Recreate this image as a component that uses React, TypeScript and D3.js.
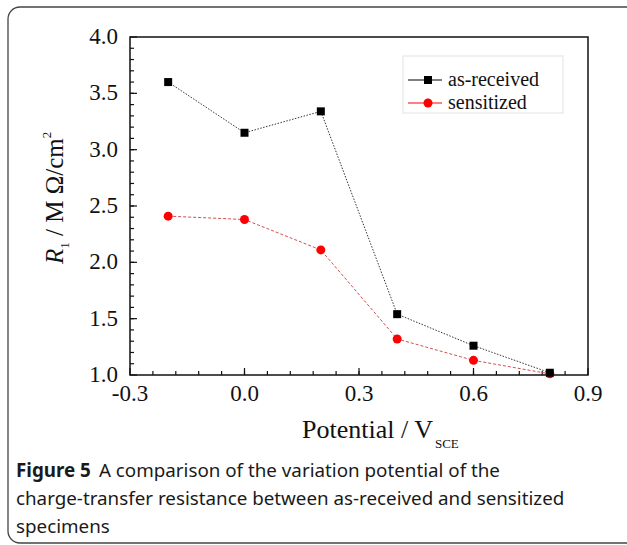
import React from "react";
import * as d3 from "d3";

const potentials = [-0.2, 0.0, 0.2, 0.4, 0.6, 0.8];
const asReceived = [3.6, 3.15, 3.34, 1.54, 1.26, 1.02];
const sensitized = [2.41, 2.38, 2.11, 1.32, 1.13, 1.01];
const xTicks = [-0.3, 0.0, 0.3, 0.6, 0.9];
const yTicks = [1.0, 1.5, 2.0, 2.5, 3.0, 3.5, 4.0];
const seriesNames = ["as-received", "sensitized"];
const captionLines = [
  "A comparison of the variation potential of the",
  "charge-transfer resistance between as-received and sensitized",
  "specimens",
];

const W = 627, H = 545;
const left = 130, right = 588, top = 37, bottom = 375;

export default function App() {
  const x = d3.scaleLinear().domain([-0.3, 0.9]).range([left, right]);
  const y = d3.scaleLinear().domain([1.0, 4.0]).range([bottom, top]);
  const line = d3.line<number>().x((_, i) => x(potentials[i])).y((d) => y(d));
  const xMinor = d3.range(-0.3, 0.9001, 0.06).filter((v) => v > -0.29 && v < 0.89);
  const yMinor = d3.range(1.0, 4.0001, 0.1).filter((v) => v > 1.01 && v < 3.99);
  const serif = "'Liberation Serif', 'Times New Roman', serif";
  const sans = "'Noto Sans', 'Open Sans', sans-serif";
  return (
    <svg width={W} height={H} style={{ position: "absolute", left: 0, top: 0, background: "#fff" }}>
      <rect x={8} y={7} width={650} height={536} rx={12} fill="none" stroke="#444" strokeWidth={1.3} />
      {/* plot box */}
      <rect x={left} y={top} width={right - left} height={bottom - top} fill="none" stroke="#111" strokeWidth={1.5} />
      {/* minor ticks */}
      {xMinor.map((v, i) => (
        <line key={"xm" + i} x1={x(v)} x2={x(v)} y1={bottom} y2={bottom - 4} stroke="#111" strokeWidth={1.2} />
      ))}
      {xTicks.map((v, i) => (
        <g key={"xt" + i}>
          <line x1={x(v)} x2={x(v)} y1={bottom} y2={bottom - 7} stroke="#111" strokeWidth={1.2} />
          <text x={x(v)} y={bottom + 26} textAnchor="middle" fontFamily={serif} fontSize={23} fill="#111">
            {v.toFixed(1)}
          </text>
        </g>
      ))}
      {yMinor.map((v, i) => (
        <line key={"ym" + i} x1={left} x2={left + 4} y1={y(v)} y2={y(v)} stroke="#111" strokeWidth={1.2} />
      ))}
      {yTicks.map((v, i) => (
        <g key={"yt" + i}>
          <line x1={left} x2={left + 7} y1={y(v)} y2={y(v)} stroke="#111" strokeWidth={1.2} />
          <text x={left - 12} y={y(v) + 7} textAnchor="end" fontFamily={serif} fontSize={23} fill="#111">
            {v.toFixed(1)}
          </text>
        </g>
      ))}
      {/* lines */}
      <path d={line(asReceived) || ""} fill="none" stroke="#333" strokeWidth={1} strokeDasharray="1.5,1.5" />
      <path d={line(sensitized) || ""} fill="none" stroke="#d05050" strokeWidth={1} strokeDasharray="3,2" />
      {sensitized.map((v, i) => (
        <circle key={"s" + i} cx={x(potentials[i])} cy={y(v)} r={4.5} fill="#f00" />
      ))}
      {asReceived.map((v, i) => (
        <rect key={"a" + i} x={x(potentials[i]) - 4} y={y(v) - 4} width={8} height={8} fill="#000" />
      ))}
      {/* legend */}
      <rect x={403} y={56} width={160} height={57} fill="none" stroke="#e2e2e2" strokeWidth={1} />
      <line x1={408} x2={442} y1={80} y2={80} stroke="#000" strokeWidth={1.2} />
      <rect x={424} y={76} width={8} height={8} fill="#000" />
      <text x={448} y={86} fontFamily={serif} fontSize={20} fill="#111">{seriesNames[0]}</text>
      <line x1={408} x2={442} y1={103} y2={103} stroke="#f00" strokeWidth={1.2} />
      <circle cx={428} cy={103} r={4.5} fill="#f00" />
      <text x={448} y={109} fontFamily={serif} fontSize={20} fill="#111">{seriesNames[1]}</text>
      {/* axis titles */}
      <text x={302} y={438} fontFamily={serif} fontSize={26} fill="#111">
        Potential / V<tspan fontSize={13} dx={2} dy={10}>SCE</tspan>
      </text>
      <text transform={`translate(63, 264) rotate(-90)`} fontFamily={serif} fontSize={25} fill="#111">
        <tspan fontStyle="italic">R</tspan>
        <tspan fontSize={13} dy={6}>1</tspan>
        <tspan dy={-6}> / M Ω/cm</tspan>
        <tspan fontSize={13} dy={-12}>2</tspan>
      </text>
      {/* caption */}
      <text x={16} y={477} fontFamily={sans} fontSize={18.8} fill="#1a1a1a">
        <tspan fontWeight="bold">Figure 5</tspan>
        <tspan dx={8}>{captionLines[0]}</tspan>
      </text>
      <text x={16} y={505} fontFamily={sans} fontSize={18.8} fill="#1a1a1a">{captionLines[1]}</text>
      <text x={16} y={533} fontFamily={sans} fontSize={18.8} fill="#1a1a1a">{captionLines[2]}</text>
    </svg>
  );
}
